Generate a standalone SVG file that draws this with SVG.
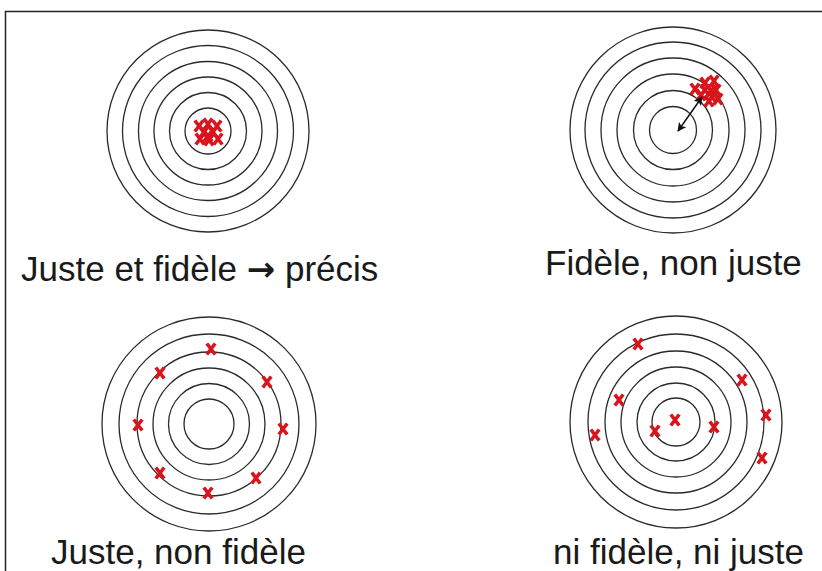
<svg xmlns="http://www.w3.org/2000/svg" width="822" height="571" viewBox="0 0 822 571">
  <style>
    .ring { fill: none; stroke: #2a2a2a; stroke-width: 1.3; }
    .lbl { font-family: "Liberation Sans", Arial, sans-serif; font-size: 35px; fill: #1a1a1a; }
    .frame { fill: none; stroke: #222; stroke-width: 1.5; }
    .hit { fill: none; stroke: #d8141c; stroke-width: 3.6; stroke-linecap: butt; }
  </style>
  <defs>
    <symbol id="x" overflow="visible">
      <path class="hit" d="M-4.2,-5.5 L4.2,5.5 M4.2,-5.5 L-4.2,5.5"/>
    </symbol>
    <marker id="ah" viewBox="0 0 10 10" refX="9" refY="5" markerWidth="6" markerHeight="6" orient="auto-start-reverse" markerUnits="strokeWidth">
      <path d="M0,0 L10,5 L0,10 L2.5,5 Z" fill="#111"/>
    </marker>
  </defs>
  <rect width="822" height="571" fill="#fff"/>
  <path class="frame" d="M5.5,571 L5.5,11.5 L822,11.5"/>

  <g id="target-juste-fidele">
    <circle class="ring" cx="208" cy="131" r="23"/>
    <circle class="ring" cx="208" cy="131" r="38.5"/>
    <circle class="ring" cx="208" cy="131" r="54"/>
    <circle class="ring" cx="208" cy="131" r="69.5"/>
    <circle class="ring" cx="208" cy="131" r="85.5"/>
    <circle class="ring" cx="208" cy="131" r="101"/>
    <use href="#x" x="199" y="126"/>
    <use href="#x" x="208" y="124"/>
    <use href="#x" x="217" y="126"/>
    <use href="#x" x="200" y="139"/>
    <use href="#x" x="209" y="140"/>
    <use href="#x" x="218" y="139"/>
    <use href="#x" x="204" y="132"/>
    <use href="#x" x="213" y="132"/>
    <use href="#x" x="208" y="136"/>
    <text class="lbl" x="21" y="281">Juste et fidèle <tspan font-family="'DejaVu Sans', sans-serif" font-weight="bold" font-size="34">→</tspan> précis</text>
  </g>

  <g id="target-fidele-non-juste">
    <circle class="ring" cx="673" cy="130" r="23.5"/>
    <circle class="ring" cx="673" cy="130" r="39.5"/>
    <circle class="ring" cx="673" cy="130" r="56"/>
    <circle class="ring" cx="673" cy="130" r="72"/>
    <circle class="ring" cx="673" cy="130" r="88"/>
    <circle class="ring" cx="673" cy="130" r="103"/>
    <use href="#x" x="695" y="89"/>
    <use href="#x" x="705" y="83"/>
    <use href="#x" x="714" y="81"/>
    <use href="#x" x="701" y="95"/>
    <use href="#x" x="711" y="91"/>
    <use href="#x" x="718" y="99"/>
    <use href="#x" x="709" y="101"/>
    <use href="#x" x="716" y="90"/>
    <use href="#x" x="705" y="90"/>
    <use href="#x" x="712" y="97"/>
    <text class="lbl" x="545" y="275">Fidèle, non juste</text>
  </g>

  <g id="target-juste-non-fidele">
    <circle class="ring" cx="209" cy="424" r="25"/>
    <circle class="ring" cx="209" cy="424" r="40.5"/>
    <circle class="ring" cx="209" cy="424" r="56"/>
    <circle class="ring" cx="209" cy="424" r="72"/>
    <circle class="ring" cx="209" cy="424" r="90"/>
    <circle class="ring" cx="209" cy="424" r="107"/>
    <use href="#x" x="211" y="349"/>
    <use href="#x" x="160" y="373"/>
    <use href="#x" x="267" y="382"/>
    <use href="#x" x="138" y="425"/>
    <use href="#x" x="283" y="429"/>
    <use href="#x" x="160" y="473"/>
    <use href="#x" x="256" y="478"/>
    <use href="#x" x="208" y="493"/>
    <text class="lbl" x="51" y="564" font-size="36.5">Juste, non fidèle</text>
  </g>

  <g id="target-ni-fidele-ni-juste">
    <circle class="ring" cx="676" cy="422" r="24"/>
    <circle class="ring" cx="676" cy="422" r="39"/>
    <circle class="ring" cx="676" cy="422" r="55"/>
    <circle class="ring" cx="676" cy="422" r="71"/>
    <circle class="ring" cx="676" cy="422" r="88"/>
    <circle class="ring" cx="676" cy="422" r="106"/>
    <use href="#x" x="638" y="344"/>
    <use href="#x" x="742" y="380"/>
    <use href="#x" x="766" y="415"/>
    <use href="#x" x="619" y="400"/>
    <use href="#x" x="595" y="435"/>
    <use href="#x" x="655" y="431"/>
    <use href="#x" x="675" y="420"/>
    <use href="#x" x="714" y="427"/>
    <use href="#x" x="762" y="458"/>
    <text class="lbl" x="553" y="564">ni fidèle, ni juste</text>
  </g>

  <g id="connectors">
    <line x1="702" y1="97" x2="678" y2="131" stroke="#111" stroke-width="1.5" marker-start="url(#ah)" marker-end="url(#ah)"/>
  </g>
</svg>
